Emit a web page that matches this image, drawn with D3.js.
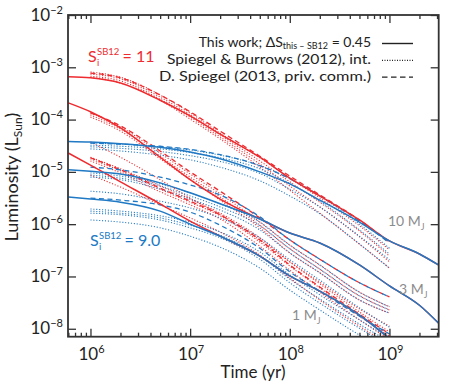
<!DOCTYPE html>
<html><head><meta charset="utf-8">
<script src="https://cdn.jsdelivr.net/npm/d3@7"></script>
<style>body{margin:0;background:#fff}</style>
</head><body>
<svg id="c" width="458" height="392"></svg>
<script>
// ---------- DATA (log10 L/Lsun) ----------
const tSolid = [6e5, 1e6, 2e6, 5e6, 1e7, 2e7, 5e7, 1e8, 2e8, 5e8, 1e9, 2e9, 3.1e9];
const tSB    = [1e6, 2e6, 5e6, 1e7, 2e7, 5e7, 1e8, 2e8, 5e8, 1e9];

// This work (solid)
const solid_S11_10MJ = [-3.18,-3.20,-3.30,-3.63,-3.93,-4.28,-4.72,-5.12,-5.46,-5.92,-6.32,-6.57,-6.78];
const solid_S9_10MJ  = [-4.42,-4.43,-4.46,-4.53,-4.62,-4.75,-5.00,-5.23,-5.54,-5.96,-6.32,-6.57,-6.78];
const solid_S11_3MJ  = [-3.68,-3.85,-4.16,-4.72,-5.15,-5.52,-5.90,-6.17,-6.36,-6.78,-7.18,-7.55,-7.89];
const solid_S9_3MJ   = [-4.96,-4.99,-5.04,-5.21,-5.40,-5.61,-5.90,-6.17,-6.36,-6.78,-7.18,-7.55,-7.89];
const solid_S11_1MJ  = [-4.64,-4.87,-5.19,-5.61,-5.94,-6.23,-6.61,-6.99,-7.28,-7.74,-8.18,-8.60,-8.88];
const solid_S9_1MJ   = [-5.48,-5.52,-5.58,-5.75,-6.00,-6.23,-6.61,-6.99,-7.28,-7.74,-8.18,-8.60,-8.88];

// Spiegel & Burrows (2012), interpolated (dotted)
const sb_S11_10MJ_a = [-3.09,-3.19,-3.53,-3.87,-4.26,-4.73,-5.12,-5.50,-6.03,-6.49];
const sb_S11_10MJ_b = [-3.13,-3.22,-3.57,-3.91,-4.29,-4.79,-5.19,-5.58,-6.13,-6.61];
const sb_S11_10MJ_c = [-3.17,-3.26,-3.61,-3.95,-4.33,-4.85,-5.27,-5.67,-6.24,-6.72];
const sb_S11_10MJ_d = [-3.19,-3.30,-3.63,-3.99,-4.37,-4.91,-5.35,-5.79,-6.38,-6.84];
const sb_S9_10MJ_a  = [-4.45,-4.47,-4.52,-4.58,-4.68,-4.88,-5.13,-5.46,-6.00,-6.46];
const sb_S9_10MJ_b  = [-4.49,-4.51,-4.56,-4.63,-4.73,-4.94,-5.22,-5.56,-6.11,-6.57];
const sb_S9_10MJ_c  = [-4.52,-4.55,-4.61,-4.69,-4.80,-5.03,-5.33,-5.67,-6.23,-6.68];
const sb_S9_10MJ_d  = [-4.56,-4.60,-4.68,-4.77,-4.91,-5.17,-5.46,-5.80,-6.38,-6.84];
const sb_S11_3MJ_a  = [-3.87,-4.14,-4.64,-5.04,-5.42,-5.96,-6.40,-6.78,-7.30,-7.58];
const sb_S11_3MJ_b  = [-3.91,-4.18,-4.70,-5.10,-5.48,-6.02,-6.47,-6.86,-7.37,-7.64];
const sb_S11_3MJ_c  = [-3.95,-4.22,-4.75,-5.15,-5.54,-6.07,-6.55,-6.93,-7.45,-7.70];
const sb_S11_3MJ_d  = [-4.43,-4.72,-5.15,-5.50,-5.82,-6.30,-6.72,-7.11,-7.62,-7.95];
const sb_S9_3MJ_a   = [-5.02,-5.08,-5.23,-5.40,-5.61,-5.96,-6.40,-6.78,-7.30,-7.58];
const sb_S9_3MJ_b   = [-5.06,-5.12,-5.27,-5.46,-5.67,-6.03,-6.47,-6.86,-7.37,-7.64];
const sb_S9_3MJ_c   = [-5.10,-5.15,-5.33,-5.52,-5.73,-6.11,-6.55,-6.93,-7.45,-7.70];
const sb_S9_3MJ_d   = [-5.37,-5.42,-5.56,-5.69,-5.88,-6.26,-6.68,-7.07,-7.60,-7.97];
const sb_S11_1MJ_a  = [-4.72,-4.94,-5.27,-5.52,-5.79,-6.26,-6.72,-7.14,-7.68,-8.06];
const sb_S11_1MJ_b  = [-4.75,-4.98,-5.33,-5.58,-5.84,-6.34,-6.80,-7.22,-7.76,-8.14];
const sb_S11_1MJ_c  = [-4.79,-5.02,-5.38,-5.63,-5.90,-6.42,-6.88,-7.30,-7.83,-8.21];
const sb_S11_1MJ_d  = [-5.06,-5.29,-5.63,-5.88,-6.15,-6.59,-7.03,-7.45,-7.95,-8.31];
const sb_S9_1MJ_a   = [-5.71,-5.75,-5.84,-5.96,-6.15,-6.53,-6.97,-7.35,-7.83,-8.18];
const sb_S9_1MJ_b   = [-5.75,-5.79,-5.88,-6.02,-6.21,-6.61,-7.05,-7.43,-7.91,-8.25];
const sb_S9_1MJ_c   = [-5.79,-5.82,-5.92,-6.07,-6.26,-6.67,-7.12,-7.51,-7.99,-8.33];
const sb_S9_1MJ_d   = [-5.92,-5.96,-6.07,-6.23,-6.44,-6.84,-7.26,-7.64,-8.12,-8.44];

// D. Spiegel (2013, priv. comm.) (dashed)
const ds_S11_10MJ = [-3.11,-3.20,-3.53,-3.85,-4.22,-4.70,-5.08,-5.44,-5.92,-6.34];
const ds_S9_10MJ  = [-4.45,-4.47,-4.51,-4.57,-4.67,-4.88,-5.13,-5.46,-5.94,-6.36];
const ds_S11_3MJ  = [-3.87,-4.12,-4.60,-5.00,-5.37,-5.88,-6.30,-6.67,-7.12,-7.39];
const ds_S9_3MJ   = [-4.91,-4.96,-5.10,-5.25,-5.44,-5.86,-6.30,-6.67,-7.12,-7.39];
const ds_S11_1MJ  = [-4.73,-4.96,-5.31,-5.56,-5.82,-6.30,-6.78,-7.20,-7.72,-8.10];
const ds_S9_1MJ   = [-5.50,-5.54,-5.63,-5.77,-6.02,-6.46,-6.91,-7.28,-7.76,-8.10];

const xMajor = [1e6, 1e7, 1e8, 1e9];
const xMajorExp = ["6", "7", "8", "9"];
const yMajor = [1e-8, 1e-7, 1e-6, 1e-5, 1e-4, 1e-3, 1e-2];
const yMajorExp = ["\u22128", "\u22127", "\u22126", "\u22125", "\u22124", "\u22123", "\u22122"];
const massLabels = ["10", "3", "1"];
const entropyLabels = ["11", "9.0"];
const legendLabels = ["Spiegel & Burrows (2012), int.", "D. Spiegel (2013, priv. comm.)"];

// ---------- LAYOUT ----------
const RED = "#ee2b2f", BLUE = "#2079c4", GRAY = "#8c8c8c", INK = "#333333", TXT = "#222";
const FONT = "Lato, 'DejaVu Sans', sans-serif";
const L = 68, R = 438.7, T = 15, B = 336.7;
const x = d3.scaleLog().domain([5.95e5, 3.12e9]).range([L, R]);
const y = d3.scaleLog().domain([7.05e-9, 1e-2]).range([B, T]);
const svg = d3.select("#c");

svg.append("defs").append("clipPath").attr("id", "clip")
  .append("rect").attr("x", L).attr("y", T).attr("width", R - L).attr("height", B - T);

const line = d3.line().x(d => x(d[0])).y(d => y(Math.pow(10, d[1]))).curve(d3.curveMonotoneX);
const zipT = (ts, vs) => ts.map((t, i) => [t, vs[i]]);

const styles = {
  solid: {w: 1.5, dash: null},
  dot:   {w: 1.1, dash: "1.1,1.8"},
  dash:  {w: 1.3, dash: "5,3.5"}
};

const series = [
  ...[sb_S11_10MJ_a, sb_S11_10MJ_b, sb_S11_10MJ_c, sb_S11_10MJ_d,
      sb_S11_3MJ_a, sb_S11_3MJ_b, sb_S11_3MJ_c, sb_S11_3MJ_d,
      sb_S11_1MJ_a, sb_S11_1MJ_b, sb_S11_1MJ_c, sb_S11_1MJ_d].map(v => ({t: tSB, v, c: RED, s: "dot"})),
  ...[sb_S9_10MJ_a, sb_S9_10MJ_b, sb_S9_10MJ_c, sb_S9_10MJ_d,
      sb_S9_3MJ_a, sb_S9_3MJ_b, sb_S9_3MJ_c, sb_S9_3MJ_d,
      sb_S9_1MJ_a, sb_S9_1MJ_b, sb_S9_1MJ_c, sb_S9_1MJ_d].map(v => ({t: tSB, v, c: BLUE, s: "dot"})),
  ...[ds_S11_10MJ, ds_S11_3MJ, ds_S11_1MJ].map(v => ({t: tSB, v, c: RED, s: "dash"})),
  ...[ds_S9_10MJ, ds_S9_3MJ, ds_S9_1MJ].map(v => ({t: tSB, v, c: BLUE, s: "dash"})),
  ...[solid_S11_10MJ, solid_S11_3MJ, solid_S11_1MJ].map(v => ({t: tSolid, v, c: RED, s: "solid"})),
  ...[solid_S9_10MJ, solid_S9_3MJ, solid_S9_1MJ].map(v => ({t: tSolid, v, c: BLUE, s: "solid"}))
];

const gLines = svg.append("g").attr("clip-path", "url(#clip)");
gLines.selectAll("path").data(series).join("path")
  .attr("d", d => line(zipT(d.t, d.v)))
  .attr("fill", "none")
  .attr("stroke", d => d.c)
  .attr("stroke-width", d => styles[d.s].w)
  .attr("stroke-dasharray", d => styles[d.s].dash);

// ---------- AXES ----------
const minorX = [];
for (let e = 5; e <= 9; e++) for (let m = 2; m <= 9; m++) {
  const v = m * Math.pow(10, e);
  if (v > x.domain()[0] && v < x.domain()[1]) minorX.push(v);
}
function styleAxis(g) {
  g.select(".domain").remove();
  g.selectAll("line").attr("stroke", INK).attr("stroke-width", 1.3);
  g.selectAll("text").remove();
}
svg.append("g").attr("transform", `translate(0,${B})`).call(d3.axisBottom(x).tickValues(xMajor).tickSize(-8)).call(styleAxis);
svg.append("g").attr("transform", `translate(0,${B})`).call(d3.axisBottom(x).tickValues(minorX).tickSize(-4)).call(styleAxis);
svg.append("g").attr("transform", `translate(0,${T})`).call(d3.axisTop(x).tickValues(xMajor).tickSize(-8)).call(styleAxis);
svg.append("g").attr("transform", `translate(0,${T})`).call(d3.axisTop(x).tickValues(minorX).tickSize(-4)).call(styleAxis);
svg.append("g").attr("transform", `translate(${L},0)`).call(d3.axisLeft(y).tickValues(yMajor).tickSize(-8)).call(styleAxis);
svg.append("g").attr("transform", `translate(${R},0)`).call(d3.axisRight(y).tickValues(yMajor).tickSize(-8)).call(styleAxis);

svg.append("rect").attr("x", L).attr("y", T).attr("width", R - L).attr("height", B - T)
  .attr("fill", "none").attr("stroke", INK).attr("stroke-width", 1.8);

// tick labels
xMajor.forEach((v, i) => {
  const t = svg.append("text").attr("x", x(v) + 1).attr("y", 360).attr("text-anchor", "middle")
    .attr("font-family", FONT).attr("font-size", 17).attr("fill", TXT);
  t.append("tspan").text("10");
  t.append("tspan").attr("dy", -7).attr("font-size", 11).text(xMajorExp[i]);
});
yMajor.forEach((v, i) => {
  const t = svg.append("text").attr("x", 63).attr("y", y(v) + 5.5).attr("text-anchor", "end")
    .attr("font-family", FONT).attr("font-size", 17).attr("fill", TXT);
  t.append("tspan").text("10");
  t.append("tspan").attr("dy", -7).attr("font-size", 11).text(yMajorExp[i]);
});

// axis titles
{
  const t = svg.append("text").attr("transform", "translate(18,177) rotate(-90)").attr("text-anchor", "middle")
    .attr("font-family", FONT).attr("font-size", 18).attr("fill", TXT);
  t.append("tspan").text("Luminosity (L");
  t.append("tspan").attr("dy", 4).attr("font-size", 12).text("Sun");
  t.append("tspan").attr("dy", -4).text(")");
}
svg.append("text").attr("x", 253).attr("y", 378).attr("text-anchor", "middle")
  .attr("font-family", FONT).attr("font-size", 17).attr("fill", TXT).text("Time (yr)");

// legend
{
  const tx = 371;
  const t1 = svg.append("text").attr("x", tx).attr("y", 46.5).attr("text-anchor", "end")
    .attr("font-family", FONT).attr("font-size", 14).attr("fill", TXT);
  t1.append("tspan").text("This work; \u0394S");
  t1.append("tspan").attr("dy", 2.5).attr("font-size", 9).text("this \u2013 SB12");
  t1.append("tspan").attr("dy", -2.5).text(" = 0.45");
  const widths = [204, 212];
  legendLabels.forEach((s, i) => {
    svg.append("text").attr("x", tx).attr("y", 64 + i * 16.5).attr("text-anchor", "end")
      .attr("font-family", FONT).attr("font-size", 13.5).attr("fill", TXT)
      .attr("textLength", widths[i]).attr("lengthAdjust", "spacingAndGlyphs").text(s);
  });
  const ls = ["solid", "dot", "dash"];
  ls.forEach((s, i) => {
    svg.append("line").attr("x1", 382).attr("x2", 413).attr("y1", 43.5 + i * 16.8).attr("y2", 43.5 + i * 16.8)
      .attr("stroke", TXT).attr("stroke-width", s === "solid" ? 1.4 : 1.2)
      .attr("stroke-dasharray", s === "dot" ? "1,1.5" : (s === "dash" ? "5.5,3.5" : null));
  });
}

// entropy labels
function sLabel(x0, yb, color, val) {
  const g = svg.append("g").attr("fill", color).attr("font-family", FONT);
  const s = g.append("text").attr("x", x0).attr("y", yb).attr("font-size", 16).text("S");
  const w = s.node().getComputedTextLength();
  g.append("text").attr("x", x0 + w + 0.3).attr("y", yb + 4).attr("font-size", 9.5).text("i");
  const sup = g.append("text").attr("x", x0 + w + 0.3).attr("y", yb - 7.5).attr("font-size", 9.5).text("SB12");
  const w2 = sup.node().getComputedTextLength();
  g.append("text").attr("x", x0 + w + w2 + 3.5).attr("y", yb).attr("font-size", 16).text("= " + val);
}
sLabel(88, 62, RED, entropyLabels[0]);
sLabel(90, 246, BLUE, entropyLabels[1]);

// mass labels
function mLabel(x0, yb, m) {
  const t = svg.append("text").attr("x", x0).attr("y", yb).attr("font-family", FONT)
    .attr("font-size", 14).attr("fill", GRAY);
  t.append("tspan").text(m + " M");
  t.append("tspan").attr("dy", 4).attr("font-size", 9).text("J");
}
mLabel(388, 226, massLabels[0]);
mLabel(399, 294, massLabels[1]);
mLabel(292, 320, massLabels[2]);
</script>
</body></html>
